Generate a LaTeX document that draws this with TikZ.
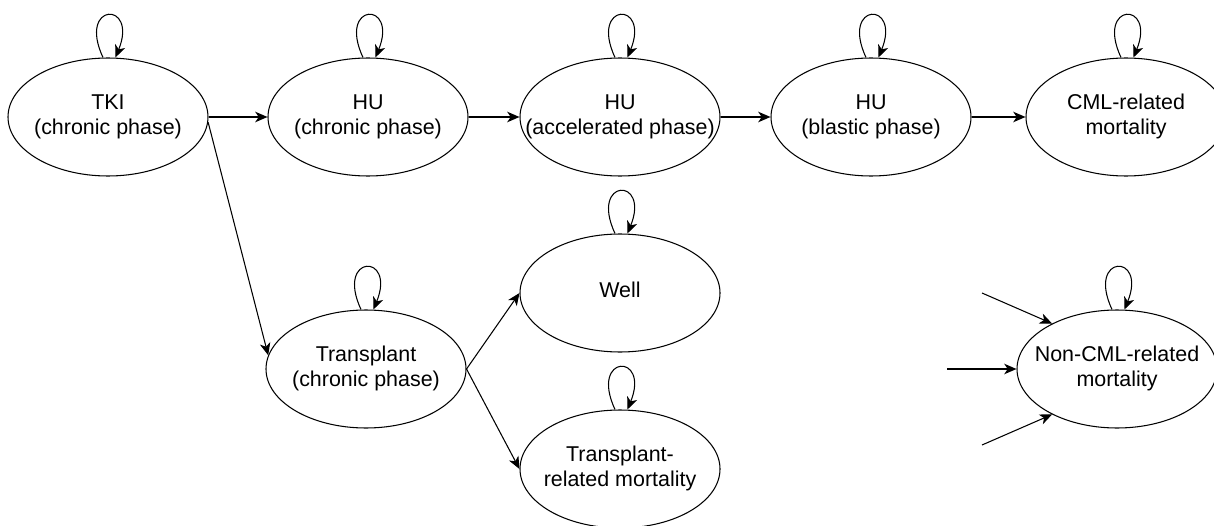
\documentclass[tikz,border=0pt]{standalone}
\usepackage{fontspec}
\setmainfont{Liberation Sans}
\usetikzlibrary{shapes.geometric,arrows.meta}

% text of a state, kept out of the size of the ellipse
\newcommand{\statelabel}[1]{\makebox[0pt]{\begin{tabular}{@{}c@{}}#1\end{tabular}}}

\tikzset{
    state/.style={draw, ellipse, line width=0.6pt, minimum width=4cm, minimum height=2.36cm,
        inner sep=0pt, font=\fontsize{12.2}{14.2}\selectfont},
    trans/.style={-{Stealth[length=7pt,width=6pt,inset=2pt]}, line width=0.6pt},
    selfloop/.style={trans, out=115, in=68, looseness=12.6}
}

\begin{document}
\begin{tikzpicture}
        \useasboundingbox (0,0) rectangle (24.28,10.5);

        % the states of the first row
        \node[state] (tki) at (2.16,8.16) {\statelabel{TKI\\(chronic phase)}};
        \node[state] (huc) at (7.36,8.16) {\statelabel{HU\\(chronic phase)}};
        \node[state] (hua) at (12.40,8.16) {\statelabel{HU\\(accelerated phase)}};
        \node[state] (hub) at (17.42,8.16) {\statelabel{HU\\(blastic phase)}};
        \node[state] (cml) at (22.52,8.16) {\statelabel{CML-related\\mortality}};

        % the transplant branch
        \node[state] (tx) at (7.32,3.12) {\statelabel{Transplant\\(chronic phase)}};
        \node[state] (well) at (12.40,4.64) {\statelabel{Well}};
        \node[state] (trm) at (12.40,1.12) {\statelabel{Transplant-\\related mortality}};

        % the absorbing state reached from everywhere
        \node[state] (noncml) at (22.34,3.12) {\statelabel{Non-CML-related\\mortality}};
        \coordinate (in1) at (19.64,4.64);
        \coordinate (in2) at (18.94,3.12);
        \coordinate (in3) at (19.64,1.60);

        % staying in the same state
        \draw[selfloop] ([xshift=-0.1cm]tki.north) to ([xshift=0.15cm]tki.north);
        \draw[selfloop] ([xshift=-0.1cm]huc.north) to ([xshift=0.15cm]huc.north);
        \draw[selfloop] ([xshift=-0.1cm]hua.north) to ([xshift=0.15cm]hua.north);
        \draw[selfloop] ([xshift=-0.1cm]hub.north) to ([xshift=0.15cm]hub.north);
        \draw[selfloop] ([xshift=-0.1cm]cml.north) to ([xshift=0.15cm]cml.north);
        \draw[selfloop] ([xshift=-0.1cm]tx.north) to ([xshift=0.15cm]tx.north);
        \draw[selfloop] ([xshift=-0.1cm]well.north) to ([xshift=0.15cm]well.north);
        \draw[selfloop] ([xshift=-0.1cm]trm.north) to ([xshift=0.15cm]trm.north);
        \draw[selfloop] ([xshift=-0.1cm]noncml.north) to ([xshift=0.15cm]noncml.north);

        % the transitions
        \draw[trans] (tki) -- (huc);
        \draw[trans] (huc) -- (hua);
        \draw[trans] (hua) -- (hub);
        \draw[trans] (hub) -- (cml);
        \draw[trans] (tki.-3) -- (tx.172);
        \draw[trans] (tx.east) -- (well.west);
        \draw[trans] (tx.east) -- (trm.west);
        \draw[trans] (in1) -- (noncml.145);
        \draw[trans] (in2) -- (noncml.west);
        \draw[trans] (in3) -- (noncml.-145);

    \end{tikzpicture}
\end{document}
